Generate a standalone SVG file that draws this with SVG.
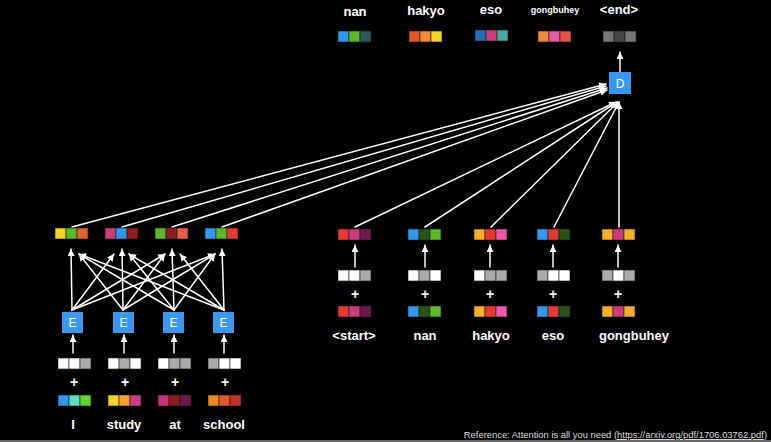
<svg xmlns="http://www.w3.org/2000/svg" width="771" height="442" viewBox="0 0 771 442">
  <style>
    .lbl { font-family: "Liberation Sans", Arial, sans-serif; font-weight: bold; font-size: 13px; fill: #ffffff; text-anchor: middle; }
    .plus { font-family: "Liberation Sans", Arial, sans-serif; font-weight: bold; font-size: 14px; fill: #ffffff; text-anchor: middle; }
    .box { fill: #3a98ee; }
    .boxtxt { font-family: "Liberation Sans", Arial, sans-serif; font-size: 12px; fill: #ffffff; text-anchor: middle; }
    .cell { stroke: #1a1a1a; stroke-width: 0.6; }
    .wire { stroke: #ffffff; stroke-width: 1.5; fill: none; stroke-linecap: round; marker-end: url(#head); }
    .w { fill: #ffffff; } .g { fill: #aaaaaa; }
    .ref { font-family: "Liberation Sans", Arial, sans-serif; font-size: 9.4px; fill: #dddddd; text-anchor: end; }
  </style>
  <defs>
    <marker id="head" markerUnits="userSpaceOnUse" markerWidth="8" markerHeight="8" refX="7" refY="3.5" orient="auto">
      <path d="M0,0 L7,3.5 L0,7 Z" fill="#ffffff"/>
    </marker>
  </defs>

  <rect x="0" y="0" width="771" height="442" fill="#000000"/>
  <line x1="0" y1="441" x2="771" y2="441" stroke="#cfcfcf" stroke-width="1"/>

  <!-- connectors -->
  <g id="connectors">
    <!-- encoder self-attention: each E feeds every output -->
    <line class="wire" x1="72" y1="310" x2="71" y2="249"/>
    <line class="wire" x1="72" y1="310" x2="114" y2="254"/>
    <line class="wire" x1="72" y1="310" x2="165" y2="254"/>
    <line class="wire" x1="72" y1="310" x2="215" y2="254"/>
    <line class="wire" x1="123" y1="310" x2="79" y2="254"/>
    <line class="wire" x1="123" y1="310" x2="122" y2="249"/>
    <line class="wire" x1="123" y1="310" x2="165" y2="254"/>
    <line class="wire" x1="123" y1="310" x2="215" y2="254"/>
    <line class="wire" x1="174" y1="310" x2="79" y2="254"/>
    <line class="wire" x1="174" y1="310" x2="129" y2="254"/>
    <line class="wire" x1="174" y1="310" x2="172" y2="249"/>
    <line class="wire" x1="174" y1="310" x2="215" y2="254"/>
    <line class="wire" x1="224" y1="310" x2="79" y2="254"/>
    <line class="wire" x1="224" y1="310" x2="129" y2="254"/>
    <line class="wire" x1="224" y1="310" x2="180" y2="254"/>
    <line class="wire" x1="224" y1="310" x2="222" y2="249"/>

    <!-- embeddings into E -->
    <line class="wire" x1="73" y1="353" x2="73" y2="335"/>
    <line class="wire" x1="124" y1="353" x2="124" y2="335"/>
    <line class="wire" x1="174" y1="353" x2="174" y2="335"/>
    <line class="wire" x1="224" y1="353" x2="224" y2="335"/>

    <!-- decoder embeddings up to outputs -->
    <line class="wire" x1="355" y1="267" x2="355" y2="245"/>
    <line class="wire" x1="425" y1="267" x2="425" y2="245"/>
    <line class="wire" x1="490" y1="267" x2="490" y2="245"/>
    <line class="wire" x1="553" y1="267" x2="553" y2="245"/>
    <line class="wire" x1="618" y1="267" x2="618" y2="245"/>

    <!-- encoder outputs to D -->
    <line class="wire" x1="72" y1="227" x2="606" y2="84"/>
    <line class="wire" x1="122" y1="227" x2="606" y2="86"/>
    <line class="wire" x1="172" y1="227" x2="607" y2="88"/>
    <line class="wire" x1="222" y1="227" x2="607" y2="90"/>

    <!-- decoder outputs to D -->
    <line class="wire" x1="355" y1="227" x2="616" y2="102"/>
    <line class="wire" x1="425" y1="227" x2="617" y2="102"/>
    <line class="wire" x1="491" y1="227" x2="618" y2="102"/>
    <line class="wire" x1="554" y1="227" x2="619" y2="102"/>
    <line class="wire" x1="619" y1="227" x2="619" y2="102"/>

    <!-- D to output -->
    <line class="wire" x1="620" y1="72" x2="620" y2="52"/>
  </g>

  <!-- decoder node -->
  <g id="node-D">
    <rect class="box" x="609" y="72" width="22" height="22"/>
    <text class="boxtxt" x="620" y="87.5">D</text>
  </g>

  <!-- predicted outputs -->
  <g id="out-nan">
    <text class="lbl" x="355" y="16">nan</text>
    <rect class="cell" x="338" y="31" width="11" height="11" fill="#3399ee"/>
    <rect class="cell" x="349" y="31" width="11" height="11" fill="#5cb82a"/>
    <rect class="cell" x="360" y="31" width="11" height="11" fill="#2b5a58"/>
  </g>
  <g id="out-hakyo">
    <text class="lbl" x="426" y="15">hakyo</text>
    <rect class="cell" x="409" y="31" width="11" height="11" fill="#e05a2a"/>
    <rect class="cell" x="420" y="31" width="11" height="11" fill="#f08a34"/>
    <rect class="cell" x="431" y="31" width="11" height="11" fill="#f5d327"/>
  </g>
  <g id="out-eso">
    <text class="lbl" x="491" y="14">eso</text>
    <rect class="cell" x="475" y="30" width="11" height="11" fill="#2a6fb5"/>
    <rect class="cell" x="486" y="30" width="11" height="11" fill="#cc3d80"/>
    <rect class="cell" x="497" y="30" width="11" height="11" fill="#4aa8a0"/>
  </g>
  <g id="out-gongbuhey">
    <text class="lbl" x="555" y="13" style="font-size:9px">gongbuhey</text>
    <rect class="cell" x="538" y="31" width="11" height="11" fill="#f08a34"/>
    <rect class="cell" x="549" y="31" width="11" height="11" fill="#e85aa8"/>
    <rect class="cell" x="560" y="31" width="11" height="11" fill="#e8504a"/>
  </g>
  <g id="out-end">
    <text class="lbl" x="619" y="14">&lt;end&gt;</text>
    <rect class="cell" x="603" y="31" width="11" height="11" fill="#777777"/>
    <rect class="cell" x="614" y="31" width="11" height="11" fill="#444444"/>
    <rect class="cell" x="625" y="31" width="11" height="11" fill="#777777"/>
  </g>

  <!-- encoder columns -->
  <g id="enc-I">
    <rect class="cell" x="55" y="228" width="11" height="11" fill="#f5d327"/>
    <rect class="cell" x="66" y="228" width="11" height="11" fill="#5cb82a"/>
    <rect class="cell" x="77" y="228" width="11" height="11" fill="#e0622b"/>
    <rect class="box" x="62" y="312" width="21" height="21"/>
    <text class="boxtxt" x="72.5" y="327">E</text>
    <rect class="cell w" x="58" y="358" width="11" height="11"/>
    <rect class="cell w" x="69" y="358" width="11" height="11"/>
    <rect class="cell g" x="80" y="358" width="11" height="11"/>
    <text class="plus" x="74" y="387">+</text>
    <rect class="cell" x="58" y="395" width="11" height="11" fill="#3399ee"/>
    <rect class="cell" x="69" y="395" width="11" height="11" fill="#5de0c8"/>
    <rect class="cell" x="80" y="395" width="11" height="11" fill="#6ad12f"/>
    <text class="lbl" x="73" y="429">I</text>
  </g>
  <g id="enc-study">
    <rect class="cell" x="105" y="228" width="11" height="11" fill="#cc3d80"/>
    <rect class="cell" x="116" y="228" width="11" height="11" fill="#3399ee"/>
    <rect class="cell" x="127" y="228" width="11" height="11" fill="#8b1e1e"/>
    <rect class="box" x="113" y="312" width="21" height="21"/>
    <text class="boxtxt" x="123.5" y="327">E</text>
    <rect class="cell w" x="108" y="358" width="11" height="11"/>
    <rect class="cell g" x="119" y="358" width="11" height="11"/>
    <rect class="cell w" x="130" y="358" width="11" height="11"/>
    <text class="plus" x="125" y="387">+</text>
    <rect class="cell" x="108" y="395" width="11" height="11" fill="#f5d327"/>
    <rect class="cell" x="119" y="395" width="11" height="11" fill="#f5a623"/>
    <rect class="cell" x="130" y="395" width="11" height="11" fill="#cc3d80"/>
    <text class="lbl" x="124" y="429">study</text>
  </g>
  <g id="enc-at">
    <rect class="cell" x="155" y="228" width="11" height="11" fill="#5cb82a"/>
    <rect class="cell" x="166" y="228" width="11" height="11" fill="#8b1e1e"/>
    <rect class="cell" x="177" y="228" width="11" height="11" fill="#e8604a"/>
    <rect class="box" x="163" y="312" width="21" height="21"/>
    <text class="boxtxt" x="173.5" y="327">E</text>
    <rect class="cell w" x="158" y="358" width="11" height="11"/>
    <rect class="cell g" x="169" y="358" width="11" height="11"/>
    <rect class="cell g" x="180" y="358" width="11" height="11"/>
    <text class="plus" x="175" y="387">+</text>
    <rect class="cell" x="158" y="395" width="11" height="11" fill="#c9317a"/>
    <rect class="cell" x="169" y="395" width="11" height="11" fill="#8b1e1e"/>
    <rect class="cell" x="180" y="395" width="11" height="11" fill="#6b1a4a"/>
    <text class="lbl" x="175" y="429">at</text>
  </g>
  <g id="enc-school">
    <rect class="cell" x="205" y="228" width="11" height="11" fill="#3399ee"/>
    <rect class="cell" x="216" y="228" width="11" height="11" fill="#5cb82a"/>
    <rect class="cell" x="227" y="228" width="11" height="11" fill="#e83a35"/>
    <rect class="box" x="213" y="312" width="21" height="21"/>
    <text class="boxtxt" x="223.5" y="327">E</text>
    <rect class="cell g" x="208" y="358" width="11" height="11"/>
    <rect class="cell w" x="219" y="358" width="11" height="11"/>
    <rect class="cell w" x="230" y="358" width="11" height="11"/>
    <text class="plus" x="225" y="387">+</text>
    <rect class="cell" x="208" y="395" width="11" height="11" fill="#f08a24"/>
    <rect class="cell" x="219" y="395" width="11" height="11" fill="#e05a2a"/>
    <rect class="cell" x="230" y="395" width="11" height="11" fill="#c4302b"/>
    <text class="lbl" x="224" y="429">school</text>
  </g>

  <!-- decoder columns -->
  <g id="dec-start">
    <rect class="cell" x="338" y="229" width="11" height="11" fill="#e83a35"/>
    <rect class="cell" x="349" y="229" width="11" height="11" fill="#cc3d80"/>
    <rect class="cell" x="360" y="229" width="11" height="11" fill="#6b1a4a"/>
    <rect class="cell w" x="338" y="270" width="11" height="11"/>
    <rect class="cell w" x="349" y="270" width="11" height="11"/>
    <rect class="cell g" x="360" y="270" width="11" height="11"/>
    <text class="plus" x="355" y="299">+</text>
    <rect class="cell" x="338" y="306" width="11" height="11" fill="#e83a35"/>
    <rect class="cell" x="349" y="306" width="11" height="11" fill="#cc3d80"/>
    <rect class="cell" x="360" y="306" width="11" height="11" fill="#6b1a4a"/>
    <text class="lbl" x="354" y="340">&lt;start&gt;</text>
  </g>
  <g id="dec-nan">
    <rect class="cell" x="408" y="229" width="11" height="11" fill="#3399ee"/>
    <rect class="cell" x="419" y="229" width="11" height="11" fill="#2a5416"/>
    <rect class="cell" x="430" y="229" width="11" height="11" fill="#5cb82a"/>
    <rect class="cell w" x="408" y="270" width="11" height="11"/>
    <rect class="cell g" x="419" y="270" width="11" height="11"/>
    <rect class="cell w" x="430" y="270" width="11" height="11"/>
    <text class="plus" x="425" y="299">+</text>
    <rect class="cell" x="408" y="306" width="11" height="11" fill="#3399ee"/>
    <rect class="cell" x="419" y="306" width="11" height="11" fill="#2a5416"/>
    <rect class="cell" x="430" y="306" width="11" height="11" fill="#5cb82a"/>
    <text class="lbl" x="425" y="340">nan</text>
  </g>
  <g id="dec-hakyo">
    <rect class="cell" x="474" y="229" width="11" height="11" fill="#f5b027"/>
    <rect class="cell" x="485" y="229" width="11" height="11" fill="#e83a35"/>
    <rect class="cell" x="496" y="229" width="11" height="11" fill="#e85aa8"/>
    <rect class="cell w" x="474" y="270" width="11" height="11"/>
    <rect class="cell g" x="485" y="270" width="11" height="11"/>
    <rect class="cell g" x="496" y="270" width="11" height="11"/>
    <text class="plus" x="490" y="299">+</text>
    <rect class="cell" x="474" y="306" width="11" height="11" fill="#f5b027"/>
    <rect class="cell" x="485" y="306" width="11" height="11" fill="#e83a35"/>
    <rect class="cell" x="496" y="306" width="11" height="11" fill="#e85aa8"/>
    <text class="lbl" x="491" y="340">hakyo</text>
  </g>
  <g id="dec-eso">
    <rect class="cell" x="537" y="229" width="11" height="11" fill="#3399ee"/>
    <rect class="cell" x="548" y="229" width="11" height="11" fill="#e83a35"/>
    <rect class="cell" x="559" y="229" width="11" height="11" fill="#2a5416"/>
    <rect class="cell g" x="537" y="270" width="11" height="11"/>
    <rect class="cell w" x="548" y="270" width="11" height="11"/>
    <rect class="cell w" x="559" y="270" width="11" height="11"/>
    <text class="plus" x="553" y="299">+</text>
    <rect class="cell" x="537" y="306" width="11" height="11" fill="#3399ee"/>
    <rect class="cell" x="548" y="306" width="11" height="11" fill="#e83a35"/>
    <rect class="cell" x="559" y="306" width="11" height="11" fill="#2a5416"/>
    <text class="lbl" x="553" y="340">eso</text>
  </g>
  <g id="dec-gongbuhey">
    <rect class="cell" x="602" y="229" width="11" height="11" fill="#f5b027"/>
    <rect class="cell" x="613" y="229" width="11" height="11" fill="#cc3d80"/>
    <rect class="cell" x="624" y="229" width="11" height="11" fill="#f5b027"/>
    <rect class="cell g" x="602" y="270" width="11" height="11"/>
    <rect class="cell w" x="613" y="270" width="11" height="11"/>
    <rect class="cell g" x="624" y="270" width="11" height="11"/>
    <text class="plus" x="618" y="299">+</text>
    <rect class="cell" x="602" y="306" width="11" height="11" fill="#f5b027"/>
    <rect class="cell" x="613" y="306" width="11" height="11" fill="#cc3d80"/>
    <rect class="cell" x="624" y="306" width="11" height="11" fill="#f5b027"/>
    <text class="lbl" x="634" y="340">gongbuhey</text>
  </g>

  <text class="ref" x="767" y="438">Reference: Attention is all you need (<tspan text-decoration="underline">https://arxiv.org/pdf/1706.03762.pdf</tspan>)</text>
</svg>
